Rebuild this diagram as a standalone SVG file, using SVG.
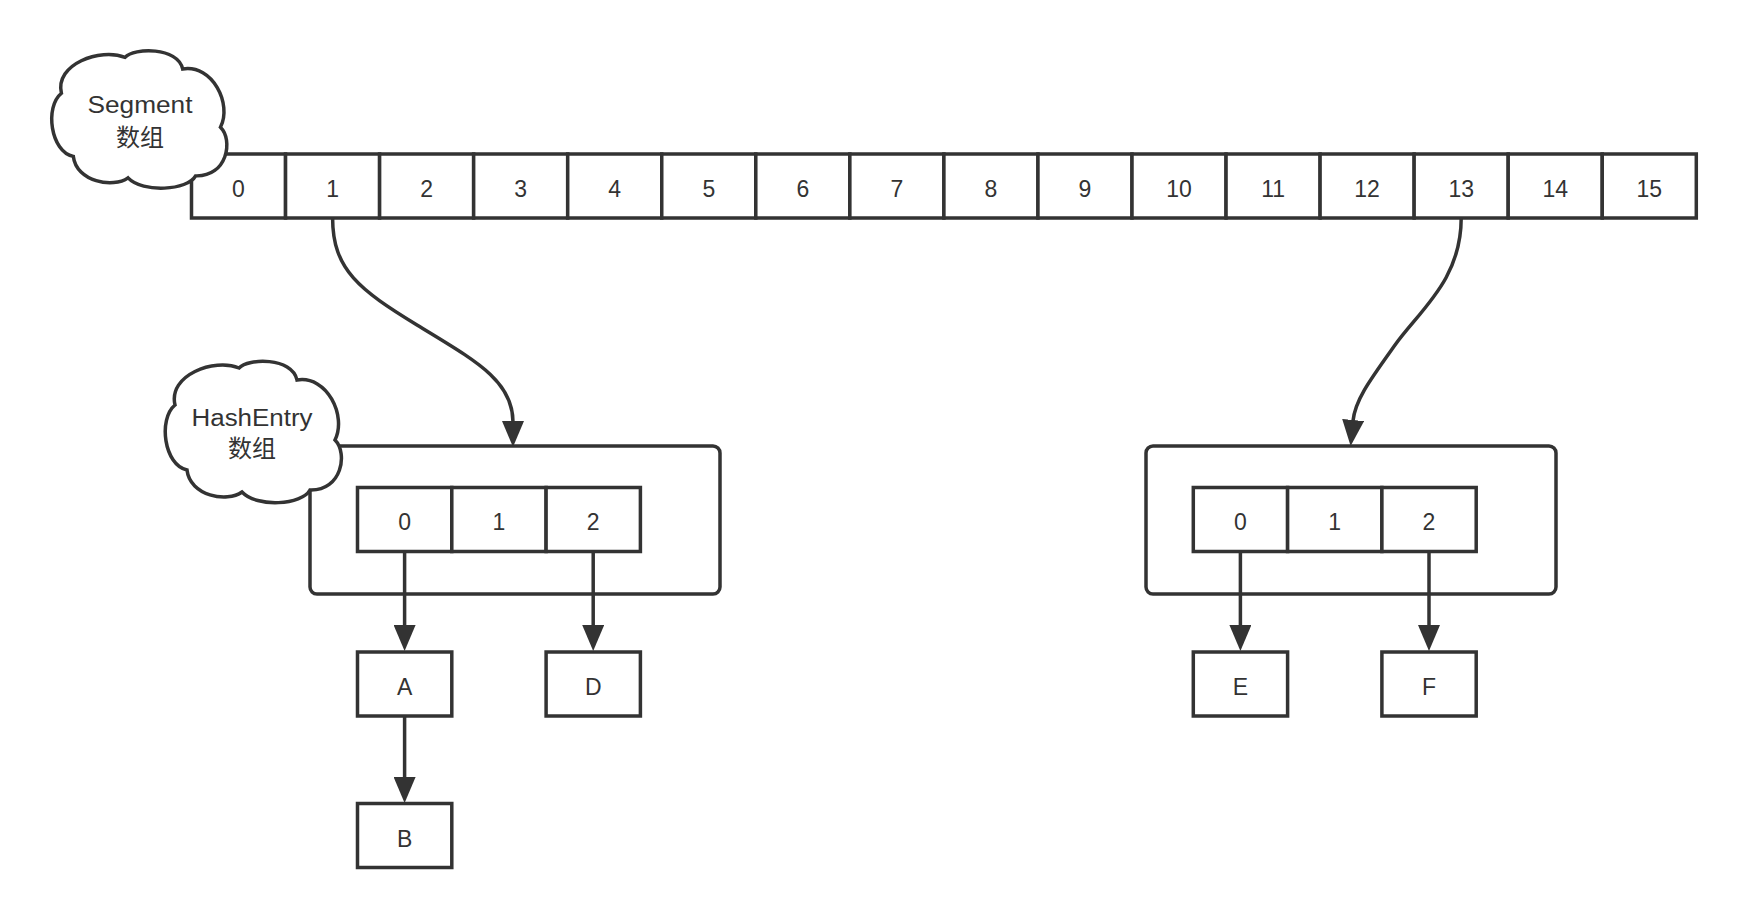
<svg xmlns="http://www.w3.org/2000/svg" width="1746" height="918" viewBox="0 0 1746 918">
<style>
.box{fill:#fff;stroke:#333;stroke-width:3.5}
.cloud{fill:#fff;stroke:#333;stroke-width:3.5}
.t{font-family:"Liberation Sans",Arial,"Noto Sans CJK SC",sans-serif;font-size:23px;fill:#333;text-anchor:middle}
.cjk{font-family:"Liberation Sans",Arial,"Noto Sans CJK SC",sans-serif;font-size:24px;fill:#333;text-anchor:middle}
.edge{fill:none;stroke:#333;stroke-width:3.5}
</style>
<defs>
<marker id="arrow" markerUnits="userSpaceOnUse" markerWidth="28" markerHeight="22" refX="1" refY="11" orient="auto" viewBox="0 0 28 22">
<path d="M0,0 L26,11 L0,22 Z" fill="#333"/>
</marker>
<path id="cloudShape" d="M13,44 C6,14 52,-3 77,7 C86,-3 130,-4 135,19 C165,14 185,55 173,79 C186,92 180,130 148,129 C140,144 95,147 80,131 C65,142 28,135 25,109 C2,104 -4,58 13,44 Z"/>
</defs>
<rect width="1746" height="918" fill="#fff"/>

<g id="segment-array">
<rect class="box" x="191.5" y="154" width="94.05" height="64"/>
<rect class="box" x="285.55" y="154" width="94.05" height="64"/>
<rect class="box" x="379.6" y="154" width="94.05" height="64"/>
<rect class="box" x="473.65" y="154" width="94.05" height="64"/>
<rect class="box" x="567.7" y="154" width="94.05" height="64"/>
<rect class="box" x="661.75" y="154" width="94.05" height="64"/>
<rect class="box" x="755.8" y="154" width="94.05" height="64"/>
<rect class="box" x="849.85" y="154" width="94.05" height="64"/>
<rect class="box" x="943.9" y="154" width="94.05" height="64"/>
<rect class="box" x="1037.95" y="154" width="94.05" height="64"/>
<rect class="box" x="1132" y="154" width="94.05" height="64"/>
<rect class="box" x="1226.05" y="154" width="94.05" height="64"/>
<rect class="box" x="1320.1" y="154" width="94.05" height="64"/>
<rect class="box" x="1414.15" y="154" width="94.05" height="64"/>
<rect class="box" x="1508.2" y="154" width="94.05" height="64"/>
<rect class="box" x="1602.25" y="154" width="94.05" height="64"/>
<text class="t" x="238.5" y="196.7">0</text>
<text class="t" x="332.6" y="196.7">1</text>
<text class="t" x="426.6" y="196.7">2</text>
<text class="t" x="520.7" y="196.7">3</text>
<text class="t" x="614.7" y="196.7">4</text>
<text class="t" x="708.8" y="196.7">5</text>
<text class="t" x="802.8" y="196.7">6</text>
<text class="t" x="896.9" y="196.7">7</text>
<text class="t" x="990.9" y="196.7">8</text>
<text class="t" x="1085" y="196.7">9</text>
<text class="t" x="1179" y="196.7">10</text>
<text class="t" x="1273.1" y="196.7">11</text>
<text class="t" x="1367.1" y="196.7">12</text>
<text class="t" x="1461.2" y="196.7">13</text>
<text class="t" x="1555.2" y="196.7">14</text>
<text class="t" x="1649.3" y="196.7">15</text>
</g>

<g id="hashentry-container-left">
<rect class="box" x="310" y="446" width="410" height="148" rx="7" ry="7"/>
</g>
<g id="hashentry-array-left">
<rect class="box" x="357.5" y="487.5" width="94.3" height="64"/>
<rect class="box" x="451.8" y="487.5" width="94.3" height="64"/>
<rect class="box" x="546.1" y="487.5" width="94.3" height="64"/>
<text class="t" x="404.6" y="530">0</text>
<text class="t" x="498.9" y="530">1</text>
<text class="t" x="593.2" y="530">2</text>
</g>

<g id="hashentry-container-right">
<rect class="box" x="1146" y="446" width="410" height="148" rx="7" ry="7"/>
</g>
<g id="hashentry-array-right">
<rect class="box" x="1193.3" y="487.5" width="94.3" height="64"/>
<rect class="box" x="1287.6" y="487.5" width="94.3" height="64"/>
<rect class="box" x="1381.9" y="487.5" width="94.3" height="64"/>
<text class="t" x="1240.4" y="530">0</text>
<text class="t" x="1334.7" y="530">1</text>
<text class="t" x="1429" y="530">2</text>
</g>

<g id="node-A">
<rect class="box" x="357.5" y="652" width="94.3" height="64"/>
<text class="t" x="404.6" y="695">A</text>
</g>
<g id="node-B">
<rect class="box" x="357.5" y="803.5" width="94.3" height="64"/>
<text class="t" x="404.6" y="846.5">B</text>
</g>
<g id="node-D">
<rect class="box" x="546.1" y="652" width="94.3" height="64"/>
<text class="t" x="593.2" y="695">D</text>
</g>
<g id="node-E">
<rect class="box" x="1193.3" y="652" width="94.3" height="64"/>
<text class="t" x="1240.4" y="695">E</text>
</g>
<g id="node-F">
<rect class="box" x="1381.9" y="652" width="94.3" height="64"/>
<text class="t" x="1429" y="695">F</text>
</g>

<g id="cloud-segment">
<use href="#cloudShape" class="cloud" transform="translate(48.5,50.5) scale(0.994,0.972)"/>
<text class="t" x="140" y="113.3" textLength="105" lengthAdjust="spacingAndGlyphs">Segment</text>
<text class="cjk" x="140" y="146.3">数组</text>
</g>

<g id="cloud-hashentry">
<use href="#cloudShape" class="cloud" transform="translate(162,361)"/>
<text class="t" x="252" y="426" textLength="121" lengthAdjust="spacingAndGlyphs">HashEntry</text>
<text class="cjk" x="252" y="457.3">数组</text>
</g>

<g id="connectors">
<path class="edge" d="M332.6,218 C332.6,270 360,290 417,325 S513,380 513,422" marker-end="url(#arrow)"/>
<path class="edge" d="M1461.2,218 C1461.2,280 1420,310 1395,345 S1355,400 1353,421" marker-end="url(#arrow)"/>
<path class="edge" d="M404.6,551.5 L404.6,626" marker-end="url(#arrow)"/>
<path class="edge" d="M593.2,551.5 L593.2,626" marker-end="url(#arrow)"/>
<path class="edge" d="M404.6,716 L404.6,778" marker-end="url(#arrow)"/>
<path class="edge" d="M1240.4,551.5 L1240.4,626" marker-end="url(#arrow)"/>
<path class="edge" d="M1429,551.5 L1429,626" marker-end="url(#arrow)"/>
</g>
</svg>
